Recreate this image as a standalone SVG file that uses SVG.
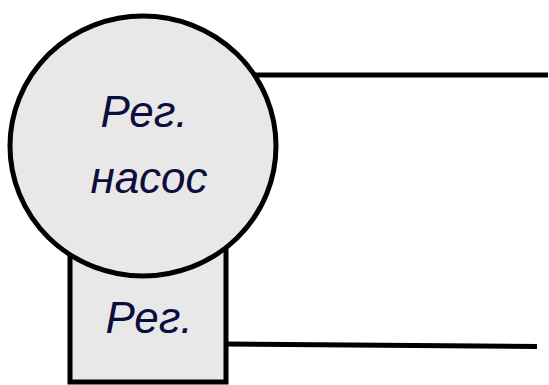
<svg xmlns="http://www.w3.org/2000/svg" width="549" height="385" viewBox="0 0 549 385">
<style>
.shape{fill:#e8e8e8;stroke:#000;stroke-width:5}
.lbl{font-family:"Liberation Sans",Arial,sans-serif;font-style:italic;font-size:44px;fill:#0c0c3e;text-anchor:middle}
.wire{stroke:#000;stroke-width:5;fill:none}
</style>
<rect width="549" height="385" fill="#fff"/>
<g id="connectors">
<line class="wire" x1="250" y1="75" x2="548" y2="75"/>
<line class="wire" x1="226" y1="344" x2="537" y2="346.5"/>
</g>
<g id="reg">
<rect class="shape" x="70" y="200" width="156" height="182"/>
<text class="lbl" x="149" y="333">Рег.</text>
</g>
<g id="pump">
<ellipse class="shape" cx="143" cy="146" rx="133" ry="130"/>
<text class="lbl" x="144" y="127">Рег.</text>
<text class="lbl" x="149" y="193">насос</text>
</g>
</svg>
